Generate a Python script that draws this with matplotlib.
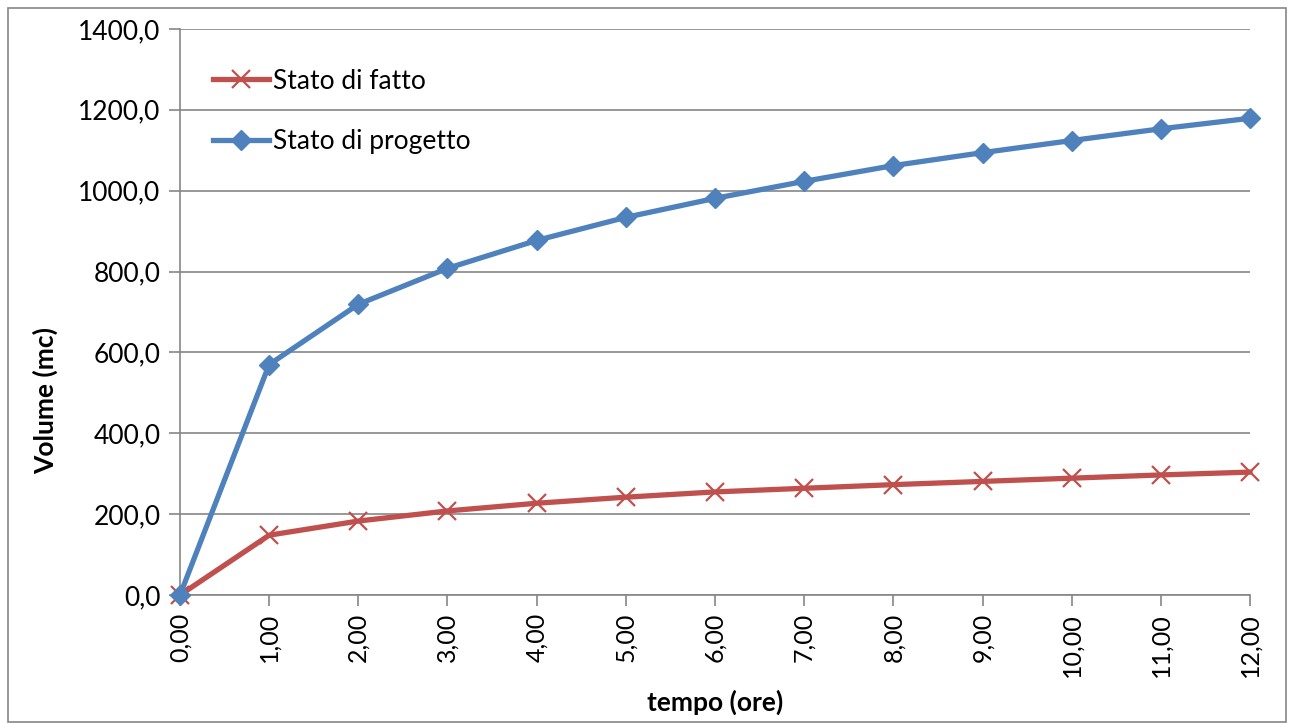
import matplotlib
matplotlib.use('Agg')
import matplotlib.pyplot as plt
from matplotlib.patches import Rectangle
from matplotlib.ticker import FuncFormatter

# tempo (ore) e volumi (mc)
ore = [0, 1, 2, 3, 4, 5, 6, 7, 8, 9, 10, 11, 12]
stato_di_fatto = [0, 148, 183, 208, 227, 242, 255, 264, 273, 281, 289, 297, 304]
stato_di_progetto = [0, 570, 719, 808, 877, 934, 981, 1023, 1062, 1094, 1124, 1153, 1179]

plt.rcParams['font.family'] = ['Lato', 'DejaVu Sans']

fig = plt.figure(figsize=(12.94, 7.23), dpi=100)
ax = fig.add_axes([0.1391, 0.177, 0.8269, 0.783])

grigio = '#868686'
ax.plot(ore, stato_di_fatto, color='#C0504D', lw=3.8, marker='x', ms=13, mew=1.6,
        label='Stato di fatto', zorder=3, clip_on=False)
ax.plot(ore, stato_di_progetto, color='#4F81BD', lw=3.8, marker='D', ms=10,
        label='Stato di progetto', zorder=4, clip_on=False)

ax.set_xlim(0, 12)
ax.set_ylim(0, 1400)
ax.set_xticks(ore)
ax.set_yticks(range(0, 1401, 200))
ax.xaxis.set_major_formatter(FuncFormatter(lambda v, p: f'{v:.2f}'.replace('.', ',')))
ax.yaxis.set_major_formatter(FuncFormatter(lambda v, p: f'{v:.1f}'.replace('.', ',')))
ax.tick_params(axis='x', labelrotation=90, labelsize=18, length=8, width=1.2, color=grigio, pad=5)
ax.tick_params(axis='y', labelsize=19, length=8, width=1.2, color=grigio, pad=6)
for lab in ax.get_xticklabels():
    lab.set_verticalalignment('top')

ax.grid(axis='y', color=grigio, lw=1.2)
ax.set_axisbelow(True)
for side in ['top', 'right']:
    ax.spines[side].set_visible(False)
for side in ['left', 'bottom']:
    ax.spines[side].set_color(grigio)
    ax.spines[side].set_linewidth(1.2)

ax.set_xlabel('tempo (ore)', fontsize=19, fontweight='bold', va='center')
ax.xaxis.set_label_coords(0.5, -0.189)
ax.set_ylabel('Volume (mc)', fontsize=19, fontweight='bold', va='center')
ax.yaxis.set_label_coords(-0.126, 0.343)

ax.legend(loc='upper left', bbox_to_anchor=(0.031, 0.93), frameon=False, fontsize=19,
          handlelength=2.1, handletextpad=0.15, labelspacing=1.35, borderaxespad=0,
          borderpad=0)

# cornice esterna del grafico
fig.patches.append(Rectangle((0.006, 0.002), 0.988, 0.987, transform=fig.transFigure,
                             fill=False, edgecolor=grigio, lw=1.2))

fig.savefig('out.png', dpi=100)
